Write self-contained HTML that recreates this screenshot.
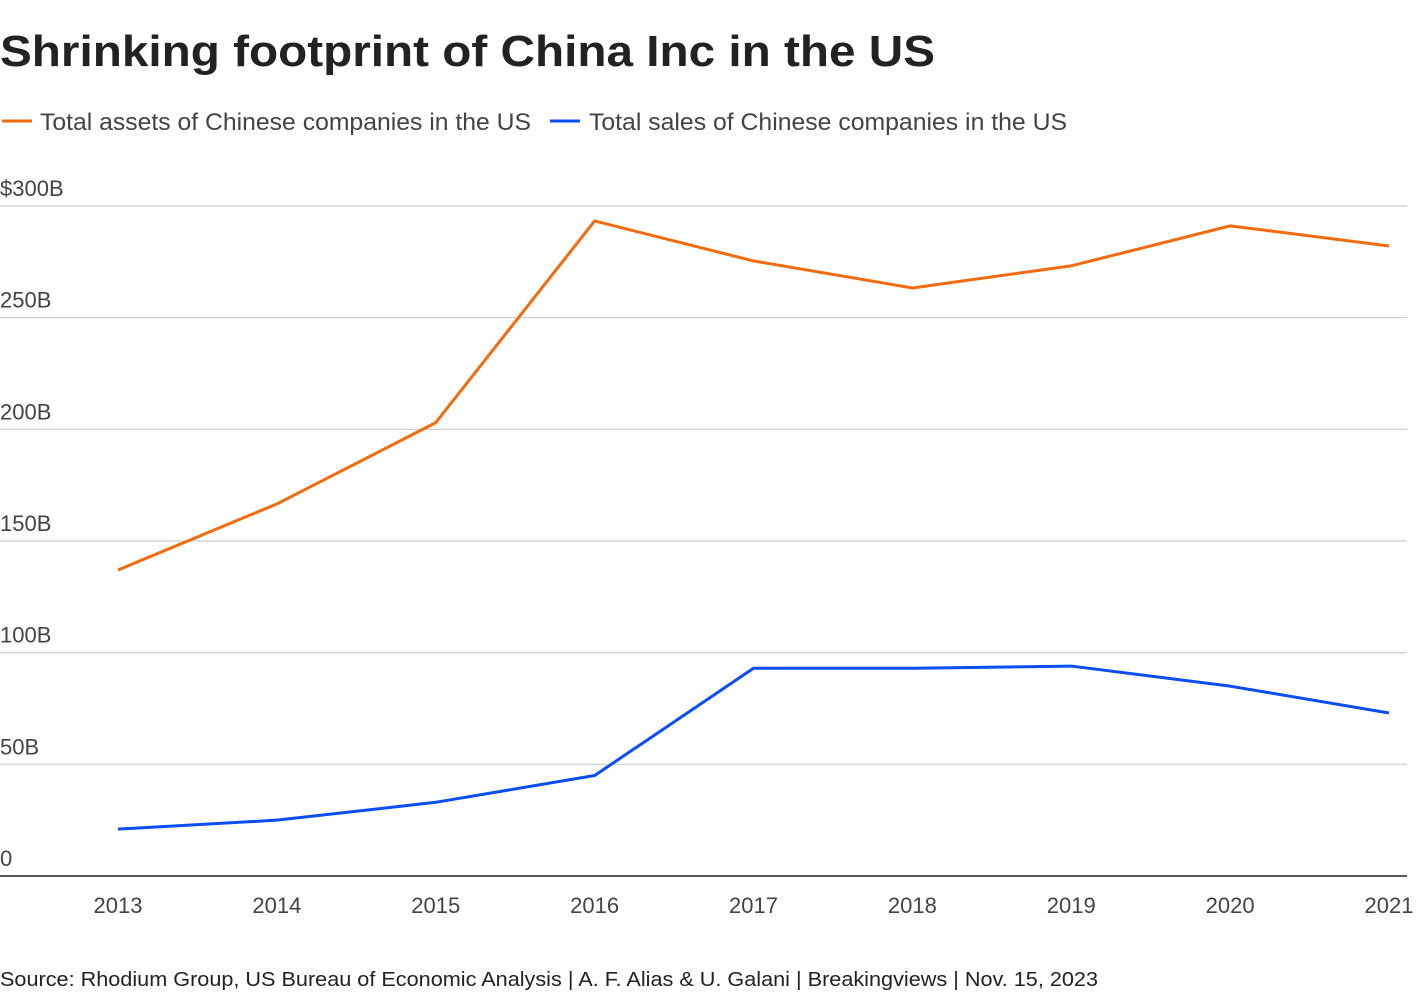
<!DOCTYPE html>
<html><head><meta charset="utf-8"><style>
body{margin:0;background:#fff;width:1420px;height:1000px;overflow:hidden;font-family:"Liberation Sans",sans-serif;}
svg text{font-family:"Liberation Sans",sans-serif;}
</style></head><body>
<svg id="chart" width="1420" height="1000">
<text x="0" y="66" font-size="44" font-weight="bold" fill="#222" textLength="935" lengthAdjust="spacingAndGlyphs">Shrinking footprint of China Inc in the US</text>
<g>
<line x1="2" y1="121" x2="32" y2="121" stroke="#f26b0f" stroke-width="3"/>
<text x="40" y="130" font-size="24" fill="#444" textLength="491" lengthAdjust="spacingAndGlyphs">Total assets of Chinese companies in the US</text>
<line x1="550" y1="121" x2="580" y2="121" stroke="#0a4ef5" stroke-width="3"/>
<text x="589" y="130" font-size="24" fill="#444" textLength="478" lengthAdjust="spacingAndGlyphs">Total sales of Chinese companies in the US</text>
</g>
<g id="grid"></g><g id="lines"></g>
<text x="0" y="986" font-size="20" fill="#222" textLength="1098" lengthAdjust="spacingAndGlyphs">Source: Rhodium Group, US Bureau of Economic Analysis | A. F. Alias &amp; U. Galani | Breakingviews | Nov. 15, 2023</text>
</svg>
<script>
const years=["2013","2014","2015","2016","2017","2018","2019","2020","2021"];
const assets=[137,166.6,203,293.3,275.4,263.3,273.2,291.1,282.1];
const sales=[21,25,33,45,93,93,94,85,73];
const yTicks=[0,50,100,150,200,250,300];
const yTickLabels=["0","50B","100B","150B","200B","250B","$300B"];
const NS="http://www.w3.org/2000/svg";
const x=i=>118+i*(1389-118)/(years.length-1);
const y=v=>876-v*(876-206)/300;
const grid=document.getElementById('grid'),lines=document.getElementById('lines');
function mk(t,a,p){const e=document.createElementNS(NS,t);for(const k in a)e.setAttribute(k,a[k]);p.appendChild(e);return e;}
yTicks.forEach((v,i)=>{
 const l=mk('line',{x1:0,x2:1407,y1:y(v),y2:y(v),stroke:v===0?'#222':'#ccc','stroke-width':v===0?1.5:1.2},grid);
 
 
 const t=mk('text',{x:0,y:y(v)-10,'font-size':22,fill:'#444'},grid);t.textContent=yTickLabels[i];
 
 
});
years.forEach((yr,i)=>{
 const t=mk('text',{x:x(i),y:913,'font-size':22,fill:'#444','text-anchor':'middle'},grid);t.textContent=yr;
 
 
});
function series(d,c,n){const p=mk('polyline',{points:d.map((v,i)=>x(i)+','+y(v)).join(' '),fill:'none',stroke:c,'stroke-width':3,'stroke-linejoin':'round'},lines);
 
 }
series(assets,'#f26b0f','assets-line');
series(sales,'#0a4ef5','sales-line');
</script>
</body></html>
